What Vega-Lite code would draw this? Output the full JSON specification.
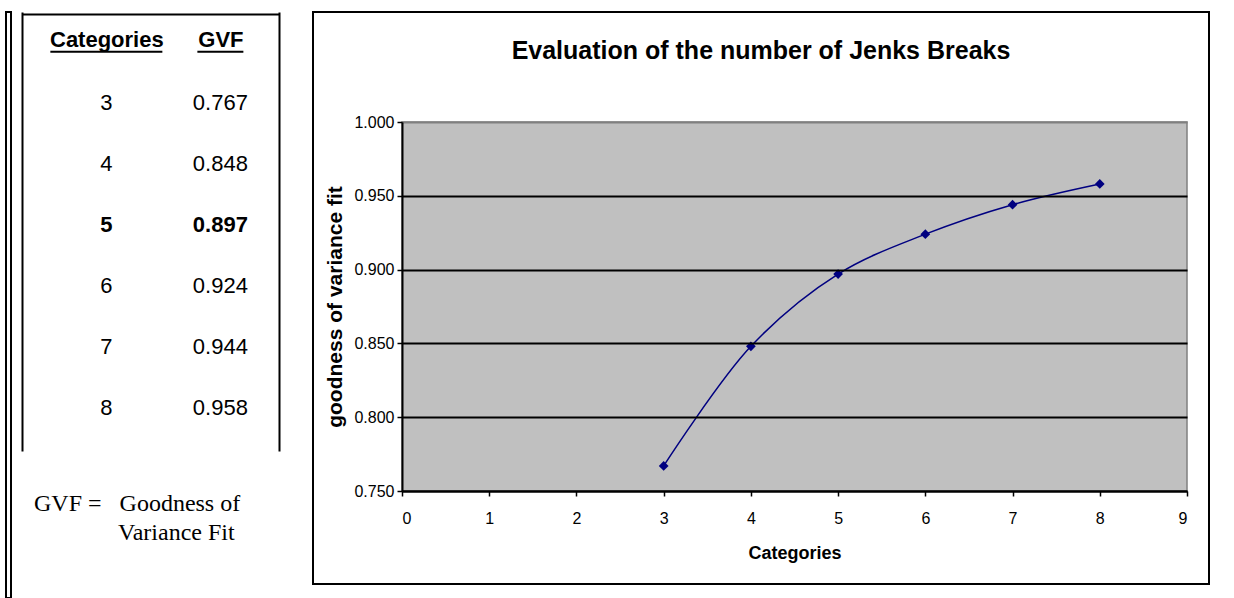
{
  "$schema": "https://vega.github.io/schema/vega-lite/v6.json",
  "padding": {"left": 4, "top": 10, "right": 0, "bottom": 0},
  "background": "white",
  "data": {"values": [
    {"Categories": 3, "GVF": 0.767},
    {"Categories": 4, "GVF": 0.848},
    {"Categories": 5, "GVF": 0.897},
    {"Categories": 6, "GVF": 0.924},
    {"Categories": 7, "GVF": 0.944},
    {"Categories": 8, "GVF": 0.958}
  ]},
  "bounds": "flush",
  "spacing": 11,
  "hconcat": [
    {
      "width": 5,
      "height": 586,
      "view": {"stroke": "black", "strokeWidth": 2},
      "mark": {"type": "rule", "opacity": 0},
      "encoding": {}
    },
    {
      "bounds": "flush",
      "spacing": 34,
      "hconcat": [
        {
          "width": 257,
          "height": 439,
          "title": {
            "text": ["GVF =\u00a0\u00a0\u00a0Goodness of", "\u200b\u00a0\u00a0\u00a0\u00a0\u00a0\u00a0\u00a0\u00a0\u00a0\u00a0\u00a0\u00a0\u00a0\u00a0Variance Fit"],
            "orient": "bottom",
            "anchor": "start",
            "frame": "group",
            "font": "Liberation Serif",
            "fontSize": 24,
            "fontWeight": "normal",
            "color": "black",
            "offset": 41,
            "dx": 12,
            "lineHeight": 29
          },
          "layer": [
            {
              "transform": [{"fold": ["Categories", "GVF"]}, {"filter": "datum.Categories != 5"}],
              "mark": {"type": "text", "font": "Liberation Sans", "fontSize": 22, "color": "black", "baseline": "middle", "align": "center"},
              "encoding": {
                "x": {"field": "key", "type": "nominal",
                  "scale": {"type": "point", "padding": 0.627, "align": 0.59},
                  "axis": {"orient": "top", "offset": -34, "domain": false, "ticks": false, "tickSize": 0, "labelPadding": 0,
                    "labelFont": "Liberation Sans", "labelFontSize": 22, "labelFontWeight": "bold", "labelColor": "black",
                    "labelBaseline": "alphabetic", "labelAngle": 0, "title": null, "grid": false}},
                "y": {"field": "Categories", "type": "quantitative",
                  "scale": {"domain": [1.508, 8.705], "reverse": true, "nice": false, "zero": false},
                  "axis": {"orient": "left", "domain": true, "domainColor": "black", "domainWidth": 2, "ticks": false, "labels": false,
                    "title": null, "grid": true, "values": [1.541], "gridColor": "black", "gridWidth": 2, "gridOpacity": 1}},
                "text": {"field": "value", "type": "nominal"}
              }
            },
            {
              "transform": [{"fold": ["Categories", "GVF"]}, {"filter": "datum.Categories == 5"}],
              "mark": {"type": "text", "font": "Liberation Sans", "fontSize": 22, "fontWeight": "bold", "color": "black", "baseline": "middle", "align": "center"},
              "encoding": {
                "x": {"field": "key", "type": "nominal"},
                "y": {"field": "Categories", "type": "quantitative",
                  "axis": {"orient": "right", "domain": true, "domainColor": "black", "domainWidth": 2, "ticks": false, "labels": false, "title": null, "grid": false}},
                "text": {"field": "value", "type": "nominal"}
              }
            },
            {
              "transform": [{"fold": ["Categories", "GVF"]}, {"aggregate": [{"op": "count", "as": "n"}], "groupby": ["key"]}, {"filter": "datum.key == 'Categories'"}],
              "mark": {"type": "tick", "size": 112, "thickness": 2, "color": "black", "opacity": 1},
              "encoding": {
                "x": {"field": "key", "type": "nominal"},
                "y": {"datum": 2.16, "type": "quantitative", "axis": null}
              }
            },
            {
              "transform": [{"fold": ["Categories", "GVF"]}, {"aggregate": [{"op": "count", "as": "n"}], "groupby": ["key"]}, {"filter": "datum.key == 'GVF'"}],
              "mark": {"type": "tick", "size": 46, "thickness": 2, "color": "black", "opacity": 1},
              "encoding": {
                "x": {"field": "key", "type": "nominal"},
                "y": {"datum": 2.16, "type": "quantitative", "axis": null}
              }
            }
          ],
          "resolve": {"axis": {"y": "independent"}}
        },
        {
          "width": 896,
          "height": 572,
          "view": {"stroke": "black", "strokeWidth": 2, "fill": "white"},
          "title": {
            "text": "Evaluation of the number of Jenks Breaks",
            "anchor": "middle",
            "frame": "group",
            "font": "Liberation Sans",
            "fontSize": 25,
            "fontWeight": "bold",
            "color": "black",
            "offset": -52
          },
          "layer": [
            {
              "transform": [{"aggregate": [{"op": "count", "as": "n"}]}],
              "mark": {"type": "rect", "fill": "#c0c0c0", "stroke": "#808080", "strokeWidth": 1.5},
              "encoding": {
                "x": {"datum": 0, "type": "quantitative",
                  "scale": {"domain": [0, 9], "range": [89, 874], "nice": false, "zero": false},
                  "axis": {"orient": "bottom", "offset": -93, "values": [0, 1, 2, 3, 4, 5, 6, 7, 8, 9], "format": "d",
                    "labelFont": "Liberation Sans", "labelFontSize": 16, "labelColor": "black", "labelPadding": 14,
                    "tickSize": 5, "tickColor": "black", "tickWidth": 1.5, "domainColor": "black", "domainWidth": 2, "grid": false,
                    "title": "Categories", "titleFont": "Liberation Sans", "titleFontSize": 18, "titleFontWeight": "bold", "titleColor": "black",
                    "titlePadding": 18, "zindex": 1}},
                "x2": {"datum": 9},
                "y": {"datum": 0.75, "type": "quantitative",
                  "scale": {"domain": [0.75, 1.0], "range": [479, 110], "nice": false, "zero": false},
                  "axis": {"orient": "left", "offset": -89, "values": [0.75, 0.8, 0.85, 0.9, 0.95, 1.0], "format": ".3f",
                    "labelFont": "Liberation Sans", "labelFontSize": 16, "labelColor": "black", "labelPadding": 3,
                    "tickSize": 5, "tickColor": "black", "tickWidth": 1.5, "domainColor": "black", "domainWidth": 2,
                    "grid": true, "gridColor": {"condition": {"test": "datum.value === 1", "value": "#808080"}, "value": "black"},
                    "gridWidth": 1.8, "gridOpacity": 1,
                    "title": "goodness of variance fit", "titleFont": "Liberation Sans", "titleFontSize": 21, "titleFontWeight": "bold",
                    "titleColor": "black", "titlePadding": 8, "zindex": 1}},
                "y2": {"datum": 1.0}
              }
            },
            {
              "mark": {"type": "line", "interpolate": "catmull-rom", "color": "#000080", "strokeWidth": 1.5},
              "encoding": {
                "x": {"field": "Categories", "type": "quantitative"},
                "y": {"field": "GVF", "type": "quantitative"}
              }
            },
            {
              "mark": {"type": "point", "shape": "diamond", "filled": true, "color": "#000080", "size": 95, "opacity": 1},
              "encoding": {
                "x": {"field": "Categories", "type": "quantitative"},
                "y": {"field": "GVF", "type": "quantitative"}
              }
            }
          ]
        }
      ]
    }
  ],
  "config": {
    "view": {"stroke": null},
    "font": "Liberation Sans"
  }
}
